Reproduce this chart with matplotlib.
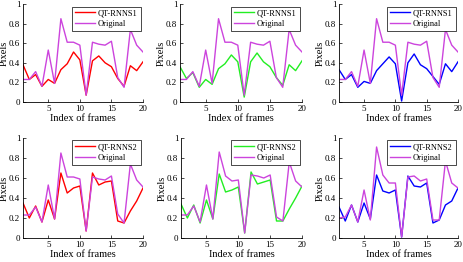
import matplotlib.pyplot as plt

plt.rcParams['font.family'] = ['Liberation Serif', 'DejaVu Serif']

frames = list(range(1, 21))

# top row: QT-RNNS1
orig_top = [0.23, 0.23, 0.31, 0.16, 0.53, 0.19, 0.85, 0.61, 0.61, 0.58,
            0.07, 0.61, 0.59, 0.58, 0.62, 0.25, 0.15, 0.74, 0.58, 0.51]
s1_red = [0.38, 0.23, 0.28, 0.16, 0.23, 0.19, 0.33, 0.39, 0.51, 0.43,
          0.07, 0.42, 0.47, 0.40, 0.36, 0.24, 0.16, 0.37, 0.32, 0.41]
s1_green = [0.36, 0.24, 0.30, 0.15, 0.23, 0.18, 0.34, 0.39, 0.48, 0.41,
            0.05, 0.41, 0.50, 0.41, 0.36, 0.25, 0.17, 0.38, 0.32, 0.42]
s1_blue = [0.33, 0.23, 0.28, 0.15, 0.21, 0.19, 0.32, 0.39, 0.46, 0.39,
           0.01, 0.40, 0.49, 0.38, 0.34, 0.26, 0.18, 0.39, 0.31, 0.41]

# bottom row: QT-RNNS2
orig_red2 = [0.23, 0.23, 0.31, 0.16, 0.53, 0.19, 0.85, 0.61, 0.61, 0.59,
             0.07, 0.61, 0.59, 0.58, 0.62, 0.24, 0.15, 0.74, 0.58, 0.51]
s2_red = [0.35, 0.20, 0.32, 0.16, 0.38, 0.19, 0.65, 0.45, 0.50, 0.52,
          0.07, 0.65, 0.53, 0.56, 0.57, 0.17, 0.15, 0.27, 0.37, 0.50]
orig_green2 = [0.23, 0.23, 0.32, 0.16, 0.53, 0.19, 0.86, 0.62, 0.57, 0.58,
               0.05, 0.63, 0.62, 0.60, 0.63, 0.21, 0.17, 0.76, 0.57, 0.51]
s2_green = [0.34, 0.20, 0.33, 0.15, 0.38, 0.19, 0.64, 0.46, 0.48, 0.51,
            0.05, 0.66, 0.54, 0.56, 0.58, 0.17, 0.17, 0.29, 0.40, 0.52]
orig_blue2 = [0.20, 0.21, 0.33, 0.16, 0.48, 0.18, 0.91, 0.63, 0.55, 0.55,
              0.01, 0.61, 0.62, 0.57, 0.59, 0.18, 0.18, 0.77, 0.55, 0.50]
s2_blue = [0.31, 0.17, 0.33, 0.16, 0.35, 0.19, 0.63, 0.47, 0.45, 0.48,
           0.01, 0.62, 0.52, 0.51, 0.55, 0.15, 0.18, 0.33, 0.37, 0.50]

panels = [
    (s1_red, orig_top, '#FF0000', 'QT-RNNS1'),
    (s1_green, orig_top, '#22EE22', 'QT-RNNS1'),
    (s1_blue, orig_top, '#0000FF', 'QT-RNNS1'),
    (s2_red, orig_red2, '#FF0000', 'QT-RNNS2'),
    (s2_green, orig_green2, '#22EE22', 'QT-RNNS2'),
    (s2_blue, orig_blue2, '#0000FF', 'QT-RNNS2'),
]

# axes rectangles in pixels: left, right, top, bottom
boxes = [
    (23, 143, 4, 102), (180, 302, 4, 102), (339, 458, 4, 102),
    (23, 143, 138, 238), (181, 302, 138, 238), (339, 458, 138, 238),
]

W, H = 463, 262
fig = plt.figure(figsize=(W / 100, H / 100), dpi=100)

for (pred, orig, col, name), (l, r, t, b) in zip(panels, boxes):
    ax = fig.add_axes([l / W, 1 - b / H, (r - l) / W, (b - t) / H])
    ax.plot(frames, pred, color=col, lw=1.0, label=name)
    ax.plot(frames, orig, color='#CC44DD', lw=1.0, label='Original')
    ax.set_xlim(1, 20)
    ax.set_ylim(0, 1)
    ax.set_xticks([5, 10, 15, 20])
    ax.set_yticks([0, 0.2, 0.4, 0.6, 0.8, 1])
    ax.set_yticklabels(['0', '0.2', '0.4', '0.6', '0.8', '1'])
    ax.spines['top'].set_visible(False)
    ax.spines['right'].set_visible(False)
    ax.spines['left'].set_linewidth(0.6)
    ax.spines['bottom'].set_linewidth(0.6)
    ax.tick_params(direction='in', length=2, width=0.5, labelsize=6.5, pad=2)
    ax.set_xlabel('Index of frames', fontsize=7.5, labelpad=1)
    ax.set_ylabel('Pixels', fontsize=7.5)
    ax.yaxis.set_label_coords(-14 / (r - l), 0.5)
    leg = ax.legend(loc='upper right', fontsize=6, fancybox=False,
                    edgecolor='black', framealpha=1, handlelength=2.4,
                    borderpad=0.35, labelspacing=0.3, handletextpad=0.4,
                    borderaxespad=0.3)
    leg.get_frame().set_linewidth(0.5)

fig.savefig('out.png', dpi=100)
